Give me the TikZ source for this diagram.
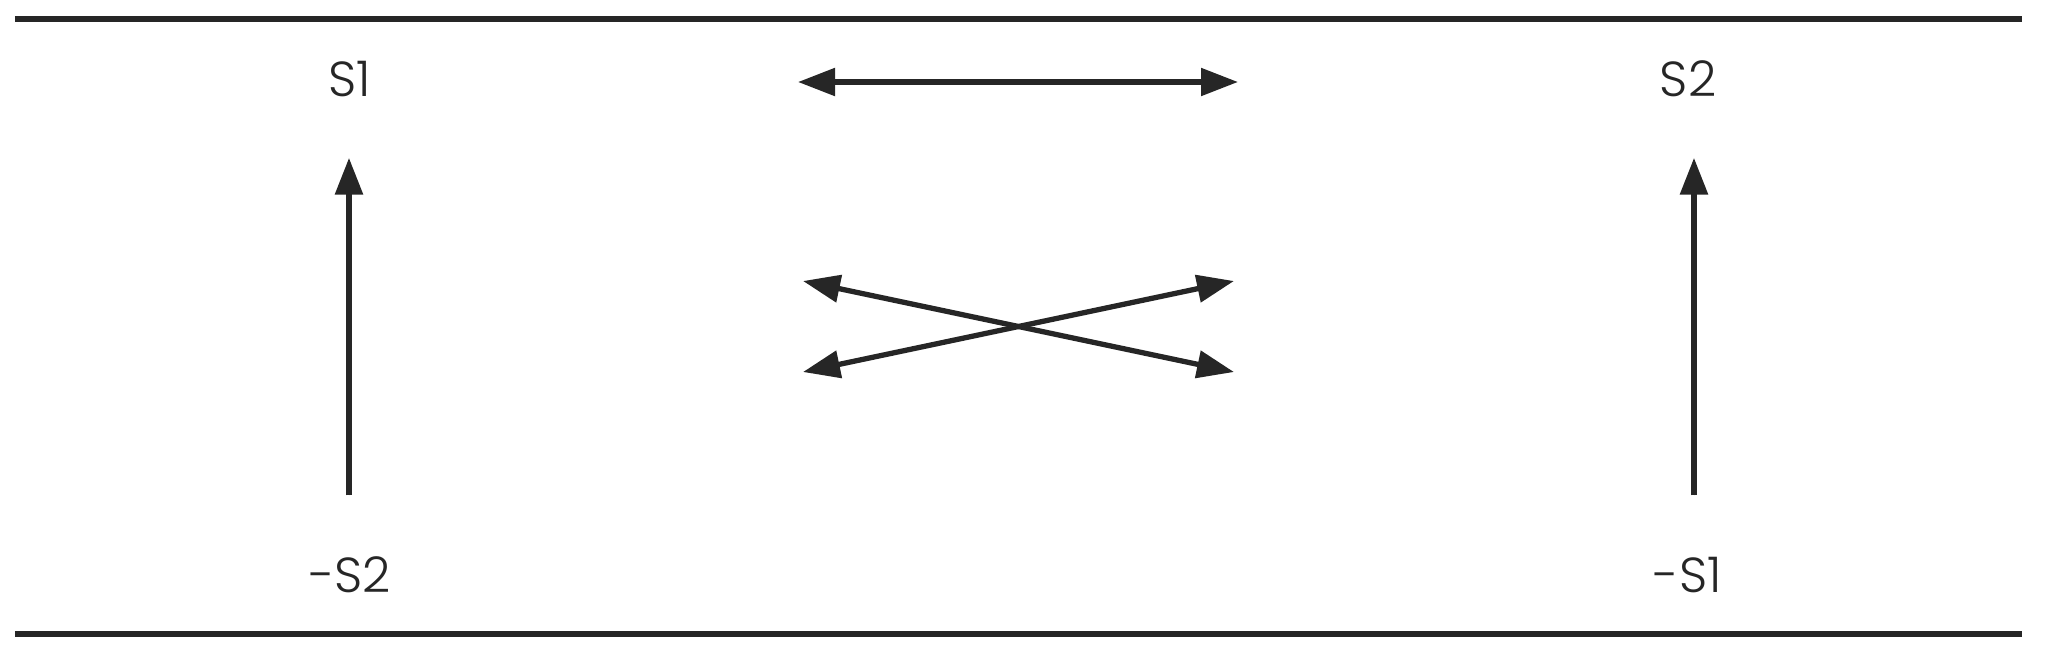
\documentclass[tikz,border=0pt]{standalone}
\usepackage{fontspec}
\setmainfont{Poppins Light}
\usepackage{tikz}
\usetikzlibrary{arrows.meta, positioning, calc}
\definecolor{ink}{HTML}{262626}

\begin{document}
\begin{tikzpicture}[
        lbl/.style={inner sep=0pt, text height=0.34cm, text depth=0pt, font=\fontsize{14pt}{16pt}\selectfont, text=ink},
        arr/.style={{Triangle[length=3.7mm, width=2.7mm]}-{Triangle[length=3.7mm, width=2.7mm]}, line width=1.5pt, draw=ink, fill=ink},
        uparr/.style={-{Triangle[length=3.7mm, width=2.7mm]}, line width=1.7pt, draw=ink, fill=ink},
        rule/.style={line width=1.5pt, draw=ink}
    ]
    \useasboundingbox (0,0) rectangle (20.48,6.57);

    % rules
    \coordinate (tl) at (0.15,6.38);
    \coordinate (tr) at (20.22,6.38);
    \coordinate (bl) at (0.15,0.23);
    \coordinate (br) at (20.22,0.23);
    \draw[rule] (tl) -- (tr);
    \draw[rule] (bl) -- (br);

    % labels
    \node[lbl] (s1) at (3.50,5.78) {S1};
    \node[lbl] (s2) at (16.88,5.78) {S2};
    \node[lbl] (ms2) at (3.50,0.82) {-S2};
    \node[lbl] (ms1) at (16.88,0.82) {-S1};

    % middle arrows
    \coordinate (hl) at (7.98,5.75);
    \coordinate (hr) at (12.38,5.75);
    \coordinate (ul) at (8.03,3.76);
    \coordinate (ur) at (12.34,3.76);
    \coordinate (dl) at (8.03,2.85);
    \coordinate (dr) at (12.34,2.85);

    \draw[uparr, shorten <=0.62cm, shorten >=0.61cm] ([xshift=-0.1mm]ms2.north) -- ([xshift=-0.1mm]s1.south);
    \draw[uparr, shorten <=0.62cm, shorten >=0.61cm] ([xshift=0.6mm]ms1.north) -- ([xshift=0.6mm]s2.south);
    \draw[arr] (hl) -- (hr);
    \draw[arr] (ul) -- (dr);
    \draw[arr] (dl) -- (ur);

\end{tikzpicture}
\end{document}
